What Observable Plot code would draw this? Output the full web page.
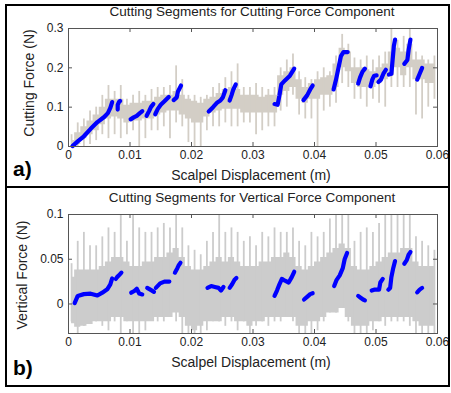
<!DOCTYPE html>
<html>
<head>
<meta charset="utf-8">
<script src="https://cdn.jsdelivr.net/npm/d3@7"></script>
<script src="https://cdn.jsdelivr.net/npm/@observablehq/plot@0.6"></script>
<style>
  html, body { margin: 0; padding: 0; background: #fff; }
  #fig { position: relative; width: 451px; height: 393px; font-family: "Liberation Sans", Arial, sans-serif; color: #222; overflow: hidden; }
  #fig .abs { position: absolute; white-space: nowrap; }
  .title { font-size: 13.5px; transform: translateX(-50%); }
  .xlab { font-size: 14px; transform: translateX(-50%); }
  .ylab { font-size: 14px; transform: translate(-50%, -50%) rotate(-90deg); }
  .tag { font-size: 21px; font-weight: bold; color: #000; }
</style>
</head>
<body>
<div id="fig"></div>
<script>
// ---------- data ----------
const xTicks = [0, 0.01, 0.02, 0.03, 0.04, 0.05, 0.06];
const cutTicks = [0, 0.1, 0.2, 0.3];
const vertTicks = [0, 0.05, 0.1];

// bin centres of the grey raw-signal envelopes (m)
const binX = [0.0005,0.0015,0.0025,0.0035,0.0045,0.0055,0.0065,0.0075,0.0085,0.0095,
  0.0105,0.0115,0.0125,0.0135,0.0145,0.0155,0.0165,0.0175,0.0185,0.0195,
  0.0205,0.0215,0.0225,0.0235,0.0245,0.0255,0.0265,0.0275,0.0285,0.0295,
  0.0305,0.0315,0.0325,0.0335,0.0345,0.0355,0.0365,0.0375,0.0385,0.0395,
  0.0405,0.0415,0.0425,0.0435,0.0445,0.0455,0.0465,0.0475,0.0485,0.0495,
  0.0505,0.0515,0.0525,0.0535,0.0545,0.0555,0.0565,0.0575,0.0585,0.0595];

// cutting force raw signal (N): dense band and spike extremes per bin
const cutCoreLo = [0.000,0.005,0.02,0.03,0.04,0.055,0.07,0.075,0.07,0.06, 0.065,0.065,0.07,0.07,0.08,0.085,0.09,0.09,0.08,0.07,
  0.06,0.06,0.075,0.085,0.09,0.095,0.095,0.095,0.085,0.085, 0.085,0.085,0.085,0.085,0.13,0.14,0.15,0.12,0.11,0.12,
  0.12,0.13,0.13,0.15,0.2,0.19,0.16,0.15,0.15,0.15, 0.16,0.17,0.18,0.2,0.18,0.2,0.17,0.17,0.16,0.16];
const cutCoreHi = [0.015,0.035,0.05,0.065,0.08,0.1,0.12,0.12,0.12,0.105, 0.11,0.11,0.115,0.115,0.125,0.13,0.13,0.14,0.13,0.12,
  0.115,0.11,0.12,0.125,0.135,0.145,0.15,0.145,0.13,0.13, 0.13,0.125,0.13,0.13,0.18,0.19,0.2,0.17,0.15,0.16,
  0.17,0.175,0.18,0.21,0.25,0.24,0.2,0.2,0.195,0.19, 0.2,0.21,0.24,0.25,0.24,0.26,0.22,0.22,0.21,0.21];
const cutSpikeLo = [0.0,0.0,0.0,0.005,0.015,0.03,0.02,0.03,0.02,0.03, 0.04,0.0,0.02,0.04,0.04,0.05,0.02,0.06,0.05,0.01,
  0.0,0.0,0.04,0.05,0.05,0.06,0.05,0.05,0.06,0.06, 0.03,0.04,0.05,0.05,0.09,0.1,0.13,0.08,0.07,0.07,
  0.0,0.09,0.1,0.11,0.16,0.15,0.12,0.12,0.1,0.12, 0.11,0.1,0.15,0.15,0.15,0.15,0.08,0.07,0.1,0.12];
const cutSpikeHi = [0.03,0.06,0.07,0.09,0.1,0.13,0.155,0.14,0.155,0.12, 0.13,0.14,0.13,0.145,0.15,0.15,0.155,0.205,0.17,0.13,
  0.13,0.125,0.13,0.15,0.16,0.175,0.19,0.21,0.15,0.15, 0.16,0.15,0.145,0.15,0.2,0.22,0.235,0.19,0.175,0.17,
  0.19,0.2,0.19,0.23,0.285,0.26,0.225,0.22,0.23,0.22, 0.23,0.24,0.3,0.27,0.28,0.3,0.24,0.23,0.22,0.23];

// vertical force raw signal (N)
const vertCoreLo = [-0.022,-0.026,-0.025,-0.023,-0.02,-0.02,-0.02,-0.015,-0.015,-0.02, -0.02,-0.02,-0.02,-0.02,-0.015,-0.015,-0.015,-0.01,-0.015,-0.025,
  -0.03,-0.025,-0.02,-0.02,-0.02,-0.015,-0.015,-0.02,-0.02,-0.025, -0.02,-0.02,-0.015,-0.015,-0.015,-0.015,-0.015,-0.025,-0.025,-0.02,
  -0.02,-0.015,-0.01,-0.01,-0.005,-0.015,-0.025,-0.025,-0.025,-0.02, -0.02,-0.015,-0.015,-0.015,-0.015,-0.015,-0.02,-0.025,-0.025,-0.025];
const vertCoreHi = [0.03,0.038,0.038,0.038,0.038,0.042,0.047,0.052,0.052,0.047, 0.042,0.042,0.047,0.047,0.052,0.052,0.057,0.062,0.052,0.042,
  0.038,0.038,0.042,0.047,0.052,0.047,0.052,0.047,0.042,0.042, 0.042,0.047,0.047,0.052,0.052,0.057,0.052,0.042,0.038,0.042,
  0.047,0.052,0.057,0.062,0.067,0.062,0.042,0.038,0.038,0.042, 0.047,0.052,0.057,0.057,0.062,0.062,0.047,0.042,0.042,0.042];
const vertSpikeLo = [-0.02,-0.033,-0.025,-0.02,-0.02,-0.025,-0.03,-0.02,-0.033,-0.02, -0.033,-0.033,-0.03,-0.015,-0.02,-0.02,-0.01,-0.02,-0.033,-0.033,
  -0.033,-0.033,-0.03,-0.02,-0.02,-0.025,-0.02,-0.03,-0.02,-0.033, -0.025,-0.02,-0.025,-0.02,-0.02,-0.015,-0.02,-0.033,-0.033,-0.033,
  -0.03,-0.02,-0.01,-0.01,-0.005,-0.02,-0.033,-0.033,-0.033,-0.03, -0.02,-0.025,-0.02,-0.02,-0.02,-0.025,-0.033,-0.033,-0.033,-0.033];
const vertSpikeHi = [0.045,0.07,0.08,0.065,0.065,0.075,0.085,0.08,0.1,0.07, 0.1,0.085,0.08,0.08,0.085,0.09,0.085,0.1,0.085,0.065,
  0.06,0.055,0.07,0.08,0.1,0.08,0.085,0.08,0.07,0.075, 0.065,0.08,0.075,0.085,0.08,0.08,0.085,0.07,0.065,0.08,
  0.075,0.08,0.095,0.1,0.1,0.1,0.07,0.08,0.085,0.08, 0.09,0.1,0.1,0.1,0.1,0.1,0.075,0.07,0.065,0.06];

// blue cutting segments [x (m), force (N)]
const cutSegments = [
  [[0.00065,0.001],[0.0015,0.013],[0.0025,0.026],[0.0036,0.045],[0.0047,0.062],[0.0058,0.075],[0.0064,0.085],[0.0068,0.098],[0.0071,0.113]],
  [[0.0080,0.094],[0.0080,0.106],[0.0082,0.113],[0.0084,0.116]],
  [[0.0101,0.069],[0.0106,0.074],[0.0111,0.078],[0.0116,0.085],[0.0120,0.090]],
  [[0.0127,0.078],[0.0131,0.090],[0.0134,0.100],[0.0138,0.108]],
  [[0.0141,0.082],[0.0145,0.095],[0.0150,0.106],[0.0156,0.115],[0.0163,0.126]],
  [[0.0171,0.118],[0.0176,0.125],[0.0178,0.140],[0.0183,0.155]],
  [[0.0228,0.089],[0.0235,0.100],[0.0242,0.112],[0.0247,0.117],[0.0251,0.125],[0.0255,0.143]],
  [[0.0262,0.117],[0.0265,0.130],[0.0268,0.145],[0.0272,0.158]],
  [[0.0335,0.108],[0.0340,0.106],[0.0343,0.130],[0.0346,0.158],[0.0352,0.168],[0.0360,0.180],[0.0367,0.198]],
  [[0.0382,0.118],[0.0388,0.130],[0.0393,0.145],[0.0397,0.155]],
  [[0.0431,0.145],[0.0435,0.170],[0.0439,0.200],[0.0443,0.230],[0.0447,0.240],[0.0454,0.240]],
  [[0.0471,0.160],[0.0474,0.175],[0.0478,0.190],[0.0482,0.198]],
  [[0.0491,0.153],[0.0494,0.170],[0.0497,0.180],[0.0501,0.181]],
  [[0.0504,0.164],[0.0508,0.170],[0.0512,0.185],[0.0516,0.195]],
  [[0.0521,0.183],[0.0525,0.185],[0.0527,0.220],[0.0529,0.255],[0.0531,0.272]],
  [[0.0546,0.210],[0.0551,0.220],[0.0553,0.245],[0.0556,0.272]],
  [[0.0567,0.170],[0.0571,0.185],[0.0575,0.200]]
];
const vertSegments = [
  [[0.0010,0.001],[0.0015,0.009],[0.0025,0.011],[0.0036,0.0115],[0.0047,0.0095],[0.0055,0.0126],[0.0063,0.0164],[0.0068,0.022],[0.0071,0.0286]],
  [[0.0077,0.028],[0.0079,0.030],[0.0082,0.032],[0.0086,0.035]],
  [[0.0102,0.0126],[0.0107,0.0145],[0.0111,0.017],[0.0115,0.0118],[0.0120,0.0107]],
  [[0.0128,0.018],[0.0133,0.016],[0.0139,0.0135]],
  [[0.0142,0.018],[0.0149,0.023],[0.0156,0.025],[0.0164,0.025]],
  [[0.0173,0.035],[0.0177,0.040],[0.0179,0.043],[0.0182,0.046]],
  [[0.0226,0.018],[0.0232,0.020],[0.0238,0.019],[0.0244,0.018],[0.0248,0.015],[0.0252,0.019]],
  [[0.0262,0.018],[0.0266,0.022],[0.0270,0.027],[0.0273,0.029]],
  [[0.0335,0.009],[0.0339,0.015],[0.0343,0.022],[0.0347,0.028],[0.0352,0.026],[0.0358,0.024],[0.0363,0.030],[0.0367,0.036]],
  [[0.0383,0.005],[0.0388,0.008],[0.0393,0.011],[0.0397,0.012]],
  [[0.0432,0.020],[0.0436,0.027],[0.0441,0.032],[0.0446,0.040],[0.0449,0.050],[0.0453,0.057]],
  [[0.0471,0.009],[0.0475,0.007],[0.0479,0.005],[0.0482,0.004]],
  [[0.0493,0.015],[0.0497,0.016],[0.0501,0.016],[0.0505,0.016],[0.0507,0.024],[0.0511,0.028]],
  [[0.0520,0.016],[0.0523,0.018],[0.0525,0.030],[0.0528,0.040],[0.0531,0.048]],
  [[0.0546,0.045],[0.0550,0.049],[0.0553,0.055],[0.0556,0.058]],
  [[0.0567,0.013],[0.0571,0.016],[0.0575,0.018]]
];

// ---------- drawing ----------
const fmt = d => String(+d.toFixed(2));
const flat = segs => segs.flatMap((s, i) => s.map(([x, y]) => ({x, y, seg: i})));
const bins = (lo, hi, slo, shi) => binX.map((x, i) => ({x, lo: lo[i], hi: hi[i], slo: slo[i], shi: shi[i]}));

function panel({height, mt, mb, yDomain, yTicks, signal, segs, grey}) {
  const W = 451, ml = 68, mr = 14;
  const ph = height - mt - mb, pw = W - ml - mr;
  return Plot.plot({
    width: W, height, marginTop: mt, marginBottom: mb, marginLeft: ml, marginRight: mr,
    style: {background: "transparent", fontFamily: "Liberation Sans, Arial, sans-serif", color: "#222"},
    x: {domain: [0, 0.06]},
    y: {domain: yDomain},
    marks: [
      Plot.areaY(signal, {x: "x", y1: "lo", y2: "hi", fill: grey, curve: "step", clip: true}),
      Plot.ruleX(signal, {x: "x", y1: "slo", y2: "shi", stroke: grey, strokeWidth: 1.8, clip: true}),
      Plot.line(flat(segs), {x: "x", y: "y", z: "seg", stroke: "#0000ff", strokeWidth: 4.2, strokeLinecap: "round", strokeLinejoin: "round"}),
      Plot.frame({stroke: "#555"}),
      Plot.tickX(xTicks, {x: d => d, insetTop: ph - 4, stroke: "#555"}),
      Plot.tickX(xTicks, {x: d => d, insetBottom: ph - 4, stroke: "#555"}),
      Plot.tickY(yTicks, {y: d => d, insetRight: pw - 4, stroke: "#555"}),
      Plot.tickY(yTicks, {y: d => d, insetLeft: pw - 4, stroke: "#555"}),
      Plot.axisX({ticks: xTicks, tickSize: 0, tickPadding: 4, tickFormat: fmt, fontSize: 12, label: null}),
      Plot.axisY({ticks: yTicks, tickSize: 0, tickPadding: 5, tickFormat: fmt, fontSize: 12, label: null})
    ]
  });
}

const fig = document.getElementById("fig");
function place(el, left, top) {
  el.style.position = "absolute"; el.style.left = left + "px"; el.style.top = top + "px";
  fig.appendChild(el);
}
function label(text, cls, left, top) {
  const d = document.createElement("div");
  d.className = "abs " + cls; d.textContent = text;
  d.style.left = left + "px"; d.style.top = top + "px";
  fig.appendChild(d);
}

place(panel({height: 188, mt: 28, mb: 42, yDomain: [0, 0.3], yTicks: cutTicks,
  signal: bins(cutCoreLo, cutCoreHi, cutSpikeLo, cutSpikeHi), segs: cutSegments, grey: "#d3cec6"}), 0, 0);
place(panel({height: 200, mt: 26, mb: 55, yDomain: [-0.033, 0.1], yTicks: vertTicks,
  signal: bins(vertCoreLo, vertCoreHi, vertSpikeLo, vertSpikeHi), segs: vertSegments, grey: "#cccccc"}), 0, 188);

label("Cutting Segments for Cutting Force Component", "title", 252, 4);
label("Scalpel Displacement (m)", "xlab", 251, 167);
label("Cutting Force (N)", "ylab", 29, 83);
label("a)", "tag", 13, 157);

label("Cutting Segments for Vertical Force Component", "title", 252, 190);
label("Scalpel Displacement (m)", "xlab", 251, 354);
label("Vertical Force (N)", "ylab", 22, 275);
label("b)", "tag", 13, 356);

// outer frame and divider
const box = document.createElement("div");
box.style.cssText = "position:absolute;left:5px;top:4px;width:441px;height:379px;border:2px solid #000;";
fig.appendChild(box);
const div = document.createElement("div");
div.style.cssText = "position:absolute;left:5px;top:186px;width:445px;height:2px;background:#000;";
fig.appendChild(div);
</script>
</body>
</html>
